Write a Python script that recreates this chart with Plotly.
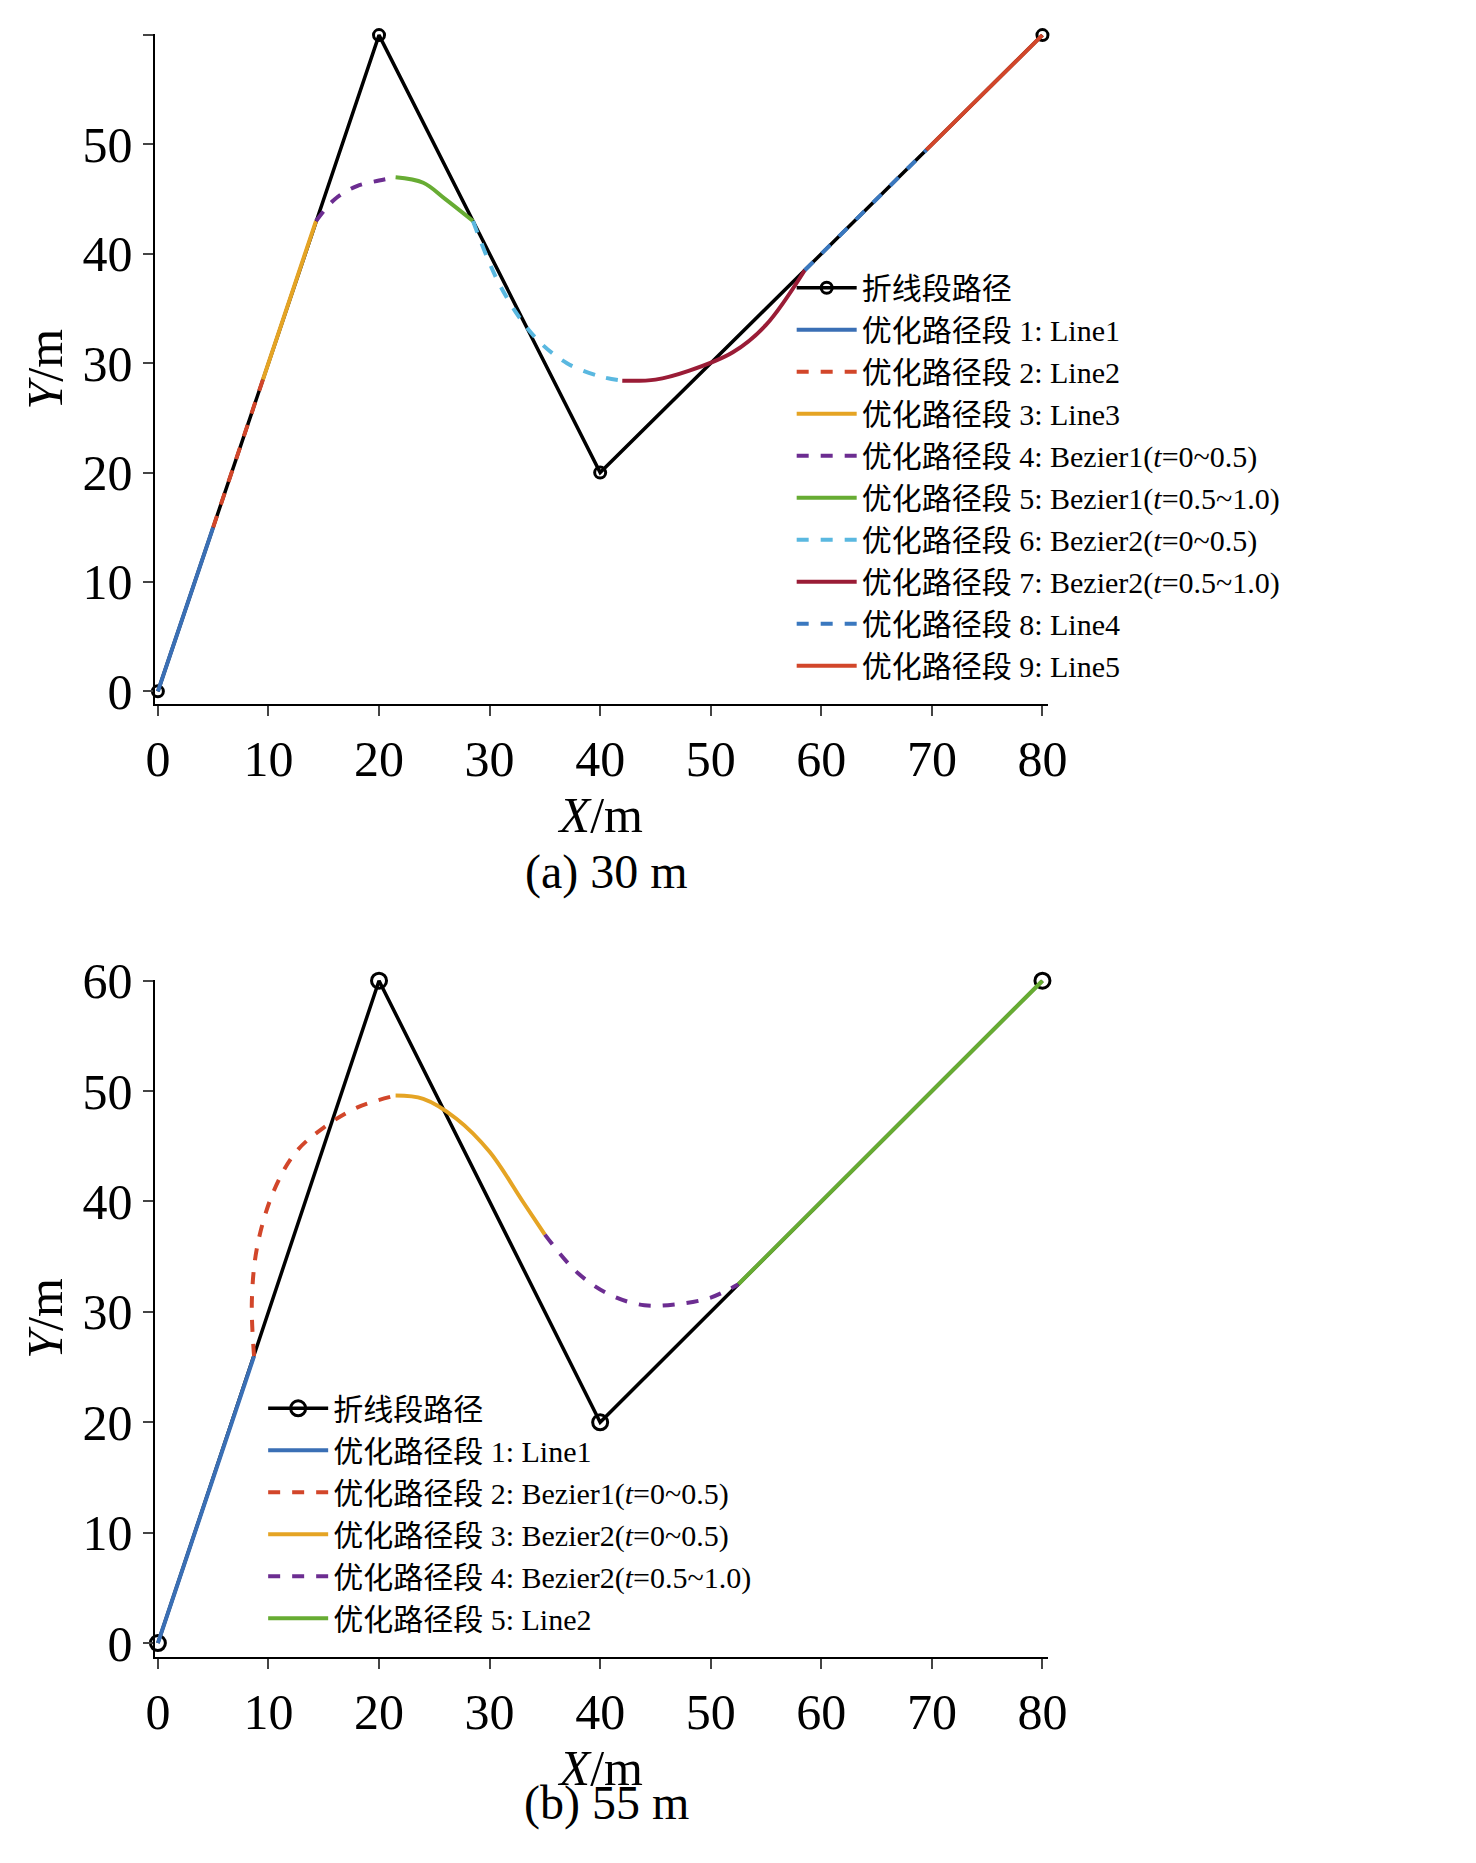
import plotly.graph_objects as go
from plotly.subplots import make_subplots

# polyline (same in both panels)
poly_x = [0, 20, 40, 80]
poly_y = [0, 60, 20, 60]

# panel (a) 30 m segments
a_names = ["优化路径段 1: Line1", "优化路径段 2: Line2", "优化路径段 3: Line3",
           "优化路径段 4: Bezier1(<i>t</i>=0~0.5)", "优化路径段 5: Bezier1(<i>t</i>=0.5~1.0)",
           "优化路径段 6: Bezier2(<i>t</i>=0~0.5)", "优化路径段 7: Bezier2(<i>t</i>=0.5~1.0)",
           "优化路径段 8: Line4", "优化路径段 9: Line5"]
a_x = [[0, 5], [5, 9.5], [9.5, 14.3],
       [14.3, 16, 18, 20, 21.5], [21.5, 24, 26, 28.5],
       [28.5, 31, 34, 37, 40, 42], [42, 45, 48, 52, 55, 58.5],
       [58.5, 69.5], [69.5, 80]]
a_y = [[0, 15], [15, 28.5], [28.5, 43],
       [43, 45, 46.2, 46.7, 47], [47, 46.5, 45, 43],
       [43, 37, 32.5, 30, 28.8, 28.4], [28.4, 28.5, 29.3, 31, 33.5, 38.5],
       [38.5, 49.5], [49.5, 60]]
a_col = ["#3a6fb5", "#d2462a", "#e5a424", "#6c2d91", "#67ac33",
         "#5ab8e0", "#9a1c36", "#3a78bf", "#d2462a"]
a_dash = ["solid", "dash", "solid", "dash", "solid", "dash", "solid", "dash", "solid"]

# panel (b) 55 m segments
b_names = ["优化路径段 1: Line1", "优化路径段 2: Bezier1(<i>t</i>=0~0.5)",
           "优化路径段 3: Bezier2(<i>t</i>=0~0.5)", "优化路径段 4: Bezier2(<i>t</i>=0.5~1.0)",
           "优化路径段 5: Line2"]
b_x = [[0, 8.7], [8.7, 8.5, 9, 10.5, 12.5, 15, 18, 21.5],
       [21.5, 24, 27, 30, 33, 35], [35, 38, 41, 44, 47, 50, 52.5], [52.5, 80]]
b_y = [[0, 26], [26, 31, 36, 41, 44.5, 46.7, 48.5, 49.6],
       [49.6, 49.3, 47.5, 44.5, 40, 37], [37, 33.5, 31.5, 30.6, 30.7, 31.3, 32.5], [32.5, 60]]
b_col = ["#3a6fb5", "#d2462a", "#e5a424", "#6c2d91", "#67ac33"]
b_dash = ["solid", "dash", "solid", "dash", "solid"]

FONT = "Liberation Serif, Noto Sans CJK SC"

fig = make_subplots(rows=2, cols=1)

for row, names, xs, ys, cols, dashes, leg, msize in [
        (1, a_names, a_x, a_y, a_col, a_dash, "legend", 11),
        (2, b_names, b_x, b_y, b_col, b_dash, "legend2", 15)]:
    fig.add_trace(go.Scatter(x=poly_x, y=poly_y, mode="lines+markers", name="折线段路径",
                             line=dict(color="black", width=3.5),
                             marker=dict(symbol="circle-open", size=msize, color="black",
                                         line=dict(width=3)),
                             cliponaxis=False, legend=leg), row=row, col=1)
    for n, x, y, c, d in zip(names, xs, ys, cols, dashes):
        fig.add_trace(go.Scatter(x=x, y=y, mode="lines", name=n, line_shape="spline",
                                 line=dict(color=c, width=4, dash=d), legend=leg),
                      row=row, col=1)

axis_style = dict(showgrid=False, zeroline=False, showline=True, linecolor="black",
                  linewidth=2, ticks="outside", ticklen=10, tickwidth=2,
                  tickfont=dict(family=FONT, size=50, color="black"))
fig.update_xaxes(**axis_style, range=[-0.3, 80.5], tickvals=list(range(0, 90, 10)))
fig.update_yaxes(**axis_style, tickvals=list(range(0, 70, 10)))
fig.update_xaxes(domain=[0.095, 0.712])
fig.update_yaxes(range=[-1.2, 60.1], domain=[0.632, 1.0], row=1, col=1)
fig.update_yaxes(range=[-1.3, 60.1], domain=[0.109, 0.481], row=2, col=1)
for r in (1, 2):
    fig.update_xaxes(title=dict(text="<i>X</i>/m", font=dict(family=FONT, size=50, color="black"),
                                standoff=4), row=r, col=1)
    fig.update_yaxes(title=dict(text="<i>Y</i>/m", font=dict(family=FONT, size=50, color="black"),
                                standoff=4), row=r, col=1)

leg_style = dict(font=dict(family=FONT, size=30, color="black"), bgcolor="rgba(0,0,0,0)",
                 tracegroupgap=0, itemwidth=60, xanchor="left", yanchor="top")
fig.update_layout(
    width=1476, height=1863, plot_bgcolor="white", paper_bgcolor="white",
    margin=dict(l=0, r=0, t=0, b=0),
    legend=dict(**leg_style, x=0.535, y=0.875),
    legend2=dict(**leg_style, x=0.17, y=0.26),
    annotations=[
        dict(text="(a) 30 m", x=0.407, y=1 - 857 / 1863, xref="paper", yref="paper",
             showarrow=False, font=dict(family=FONT, size=48, color="black")),
        dict(text="(b) 55 m", x=0.407, y=1 - 1838 / 1863, xref="paper", yref="paper",
             showarrow=False, font=dict(family=FONT, size=48, color="black")),
    ],
)

fig.write_html("out.html")
